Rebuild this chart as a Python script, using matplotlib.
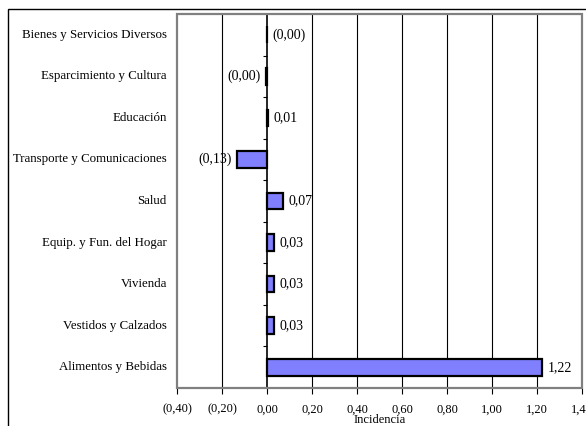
import matplotlib.pyplot as plt
from matplotlib.patches import Rectangle
from matplotlib.ticker import FuncFormatter, FixedLocator

# data, listed from bottom to top
categorias = ['Alimentos y Bebidas', 'Vestidos y Calzados', 'Vivienda',
              'Equip. y Fun. del Hogar', 'Salud', 'Transporte y Comunicaciones',
              'Educación', 'Esparcimiento y Cultura', 'Bienes y Servicios Diversos']
valores = [1.222, 0.03, 0.03, 0.03, 0.07, -0.133, 0.006, -0.005, 0.0]
etiquetas = ['1,22', '0,03', '0,03', '0,03', '0,07', '(0,13)', '0,01', '(0,00)', '(0,00)']

plt.rcParams['font.family'] = 'Liberation Serif'

fig = plt.figure(figsize=(5.86, 4.26), dpi=100)
# outer frame of the chart
fig.patches.append(Rectangle((8 / 586, -0.1), 1.2, 1.1 - 9 / 426,
                             transform=fig.transFigure, fill=False,
                             edgecolor='black', linewidth=1.0))
ax = fig.add_axes([177 / 586, 1 - 388 / 426, 405 / 586, 374 / 426])

pos = list(range(len(categorias)))
ax.barh(pos, valores, height=0.4, color='#8080FF', edgecolor='black',
        linewidth=1.6, zorder=3)

for p, v, t in zip(pos, valores, etiquetas):
    if v >= 0:
        ax.text(v + 0.025, p, t, ha='left', va='center', fontsize=10, zorder=4)
    else:
        ax.text(v - 0.025, p, t, ha='right', va='center', fontsize=10, zorder=4)

# category names at the left side of the plot area
for p, c in zip(pos, categorias):
    ax.text(-0.025, p, c, transform=ax.get_yaxis_transform(), ha='right',
            va='center', fontsize=9.3)

ax.set_xlim(-0.4, 1.4)
ax.set_ylim(-0.5, 8.5)

xt = [-0.4, -0.2, 0.0, 0.2, 0.4, 0.6, 0.8, 1.0, 1.2, 1.4]
ax.xaxis.set_major_locator(FixedLocator(xt))
ax.xaxis.set_major_formatter(FuncFormatter(
    lambda x, _: ('(%.2f)' % abs(x) if x < -1e-9 else '%.2f' % abs(x)).replace('.', ',')))
ax.tick_params(axis='x', direction='out', length=4, width=0.8, color='black',
               labelsize=9, pad=7)
ax.set_xlabel('Incidencia', fontsize=9, labelpad=-1)

# vertical gridlines
for x in xt[1:-1]:
    if abs(x) > 1e-9:
        ax.axvline(x, color='black', linewidth=0.8, zorder=1)

# the zero axis with category ticks
ax.spines['left'].set_position(('data', 0))
ax.spines['left'].set_color('black')
ax.spines['left'].set_linewidth(1.2)
ax.spines['left'].set_zorder(2)
ax.yaxis.set_major_locator(FixedLocator([p + 0.5 for p in pos[:-1]]))
ax.tick_params(axis='y', direction='out', length=3, width=0.8, labelleft=False)

for s in ['top', 'right', 'bottom']:
    ax.spines[s].set_visible(False)
ax.add_patch(Rectangle((0, 0), 1, 1, transform=ax.transAxes, fill=False,
                       edgecolor='#808080', linewidth=1.6, zorder=5,
                       clip_on=False))

plt.savefig('out.png', dpi=100)
